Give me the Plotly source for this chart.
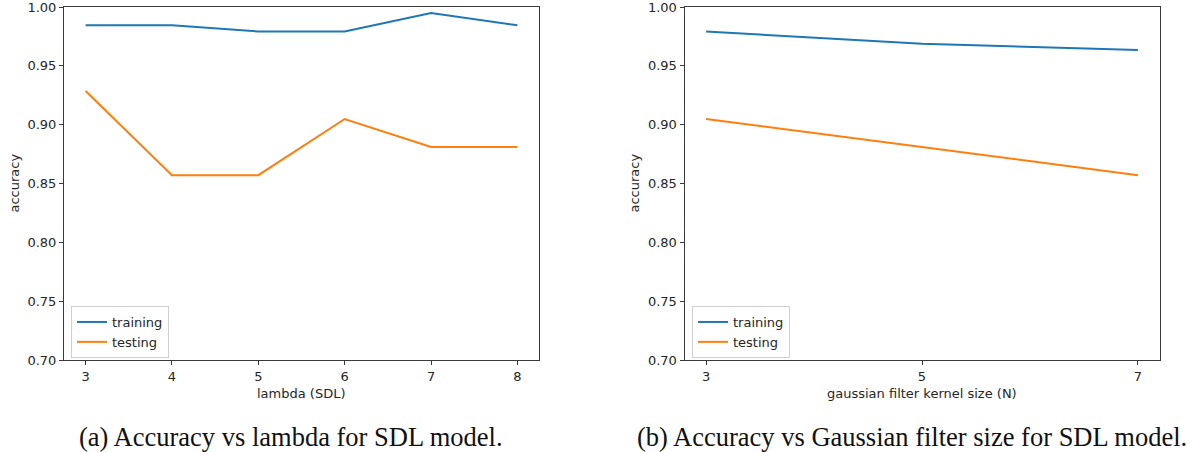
import plotly.graph_objects as go

# ---- data ----
lambda_vals = [3, 4, 5, 6, 7, 8]
lambda_train = [0.9844, 0.9844, 0.9792, 0.9792, 0.9948, 0.9844]
lambda_test = [0.9286, 0.8571, 0.8571, 0.9048, 0.8810, 0.8810]

kernel_vals = [3, 5, 7]
kernel_train = [0.9792, 0.9688, 0.9635]
kernel_test = [0.9048, 0.8810, 0.8571]

y_ticks = [0.70, 0.75, 0.80, 0.85, 0.90, 0.95, 1.00]
caption_a = "(a) Accuracy vs lambda for SDL model."
caption_b = "(b) Accuracy vs Gaussian filter size for SDL model."

BLUE = "#1f77b4"
ORANGE = "#ff7f0e"
W, H = 1191, 452

def px_x(p):
    return p / W

def px_y(p):
    return 1 - p / H

fig = go.Figure()

fig.add_trace(go.Scatter(x=lambda_vals, y=lambda_train, mode="lines", name="training",
                         line=dict(color=BLUE, width=2), xaxis="x", yaxis="y", legend="legend"))
fig.add_trace(go.Scatter(x=lambda_vals, y=lambda_test, mode="lines", name="testing",
                         line=dict(color=ORANGE, width=2), xaxis="x", yaxis="y", legend="legend"))
fig.add_trace(go.Scatter(x=kernel_vals, y=kernel_train, mode="lines", name="training",
                         line=dict(color=BLUE, width=2), xaxis="x2", yaxis="y2", legend="legend2"))
fig.add_trace(go.Scatter(x=kernel_vals, y=kernel_test, mode="lines", name="testing",
                         line=dict(color=ORANGE, width=2), xaxis="x2", yaxis="y2", legend="legend2"))

tickfont = dict(family="DejaVu Sans", size=13, color="#262626")
ax_common = dict(showgrid=False, zeroline=False, showline=True, mirror=True,
                 linecolor="#3a3a3a", linewidth=1, ticks="outside", ticklen=4,
                 tickwidth=1, tickcolor="#3a3a3a", tickfont=tickfont,
                 ticklabeloverflow="allow", automargin=False)

ydom = [px_y(360), px_y(7)]
lr = [lambda_vals[0] - 0.05 * (lambda_vals[-1] - lambda_vals[0]),
      lambda_vals[-1] + 0.05 * (lambda_vals[-1] - lambda_vals[0])]
kr = [kernel_vals[0] - 0.05 * (kernel_vals[-1] - kernel_vals[0]),
      kernel_vals[-1] + 0.05 * (kernel_vals[-1] - kernel_vals[0])]

legend_style = dict(bgcolor="rgba(255,255,255,0.8)", bordercolor="#d0d0d0", borderwidth=1,
                    font=dict(family="DejaVu Sans", size=13, color="#262626"),
                    xanchor="left", yanchor="top", tracegroupgap=0, itemwidth=30)

fig.update_layout(
    width=W, height=H,
    margin=dict(l=0, r=0, t=0, b=0, autoexpand=False),
    paper_bgcolor="white", plot_bgcolor="white",
    xaxis=dict(domain=[px_x(64), px_x(539)], range=lr, tickvals=lambda_vals,
               anchor="y", **ax_common),
    yaxis=dict(domain=ydom, range=[0.70, 1.00], tickvals=y_ticks, tickformat=".2f",
               anchor="x", **ax_common),
    xaxis2=dict(domain=[px_x(684.5), px_x(1159.5)], range=kr, tickvals=kernel_vals,
                anchor="y2", **ax_common),
    yaxis2=dict(domain=ydom, range=[0.70, 1.00], tickvals=y_ticks, tickformat=".2f",
                anchor="x2", **ax_common),
    legend=dict(x=px_x(71), y=px_y(306), **legend_style),
    legend2=dict(x=px_x(692), y=px_y(306), **legend_style),
    showlegend=True,
)

label_font = dict(family="DejaVu Sans", size=13, color="#262626")
cap_font = dict(family="Liberation Serif", size=26.5, color="#111111")
annos = [
    dict(text="accuracy", x=px_x(14), y=px_y(183.5), textangle=-90, font=label_font),
    dict(text="accuracy", x=px_x(634), y=px_y(183.5), textangle=-90, font=label_font),
    dict(text="lambda (SDL)", x=px_x(301.5), y=px_y(393), font=label_font),
    dict(text="gaussian filter kernel size (N)", x=px_x(922), y=px_y(393), font=label_font),
    dict(text=caption_a, x=px_x(290.5), y=px_y(437), font=cap_font),
    dict(text=caption_b, x=px_x(912), y=px_y(437), font=cap_font),
]
for a in annos:
    a.update(xref="paper", yref="paper", showarrow=False, xanchor="center", yanchor="middle")
fig.update_layout(annotations=annos)

fig.write_html("out.html")
